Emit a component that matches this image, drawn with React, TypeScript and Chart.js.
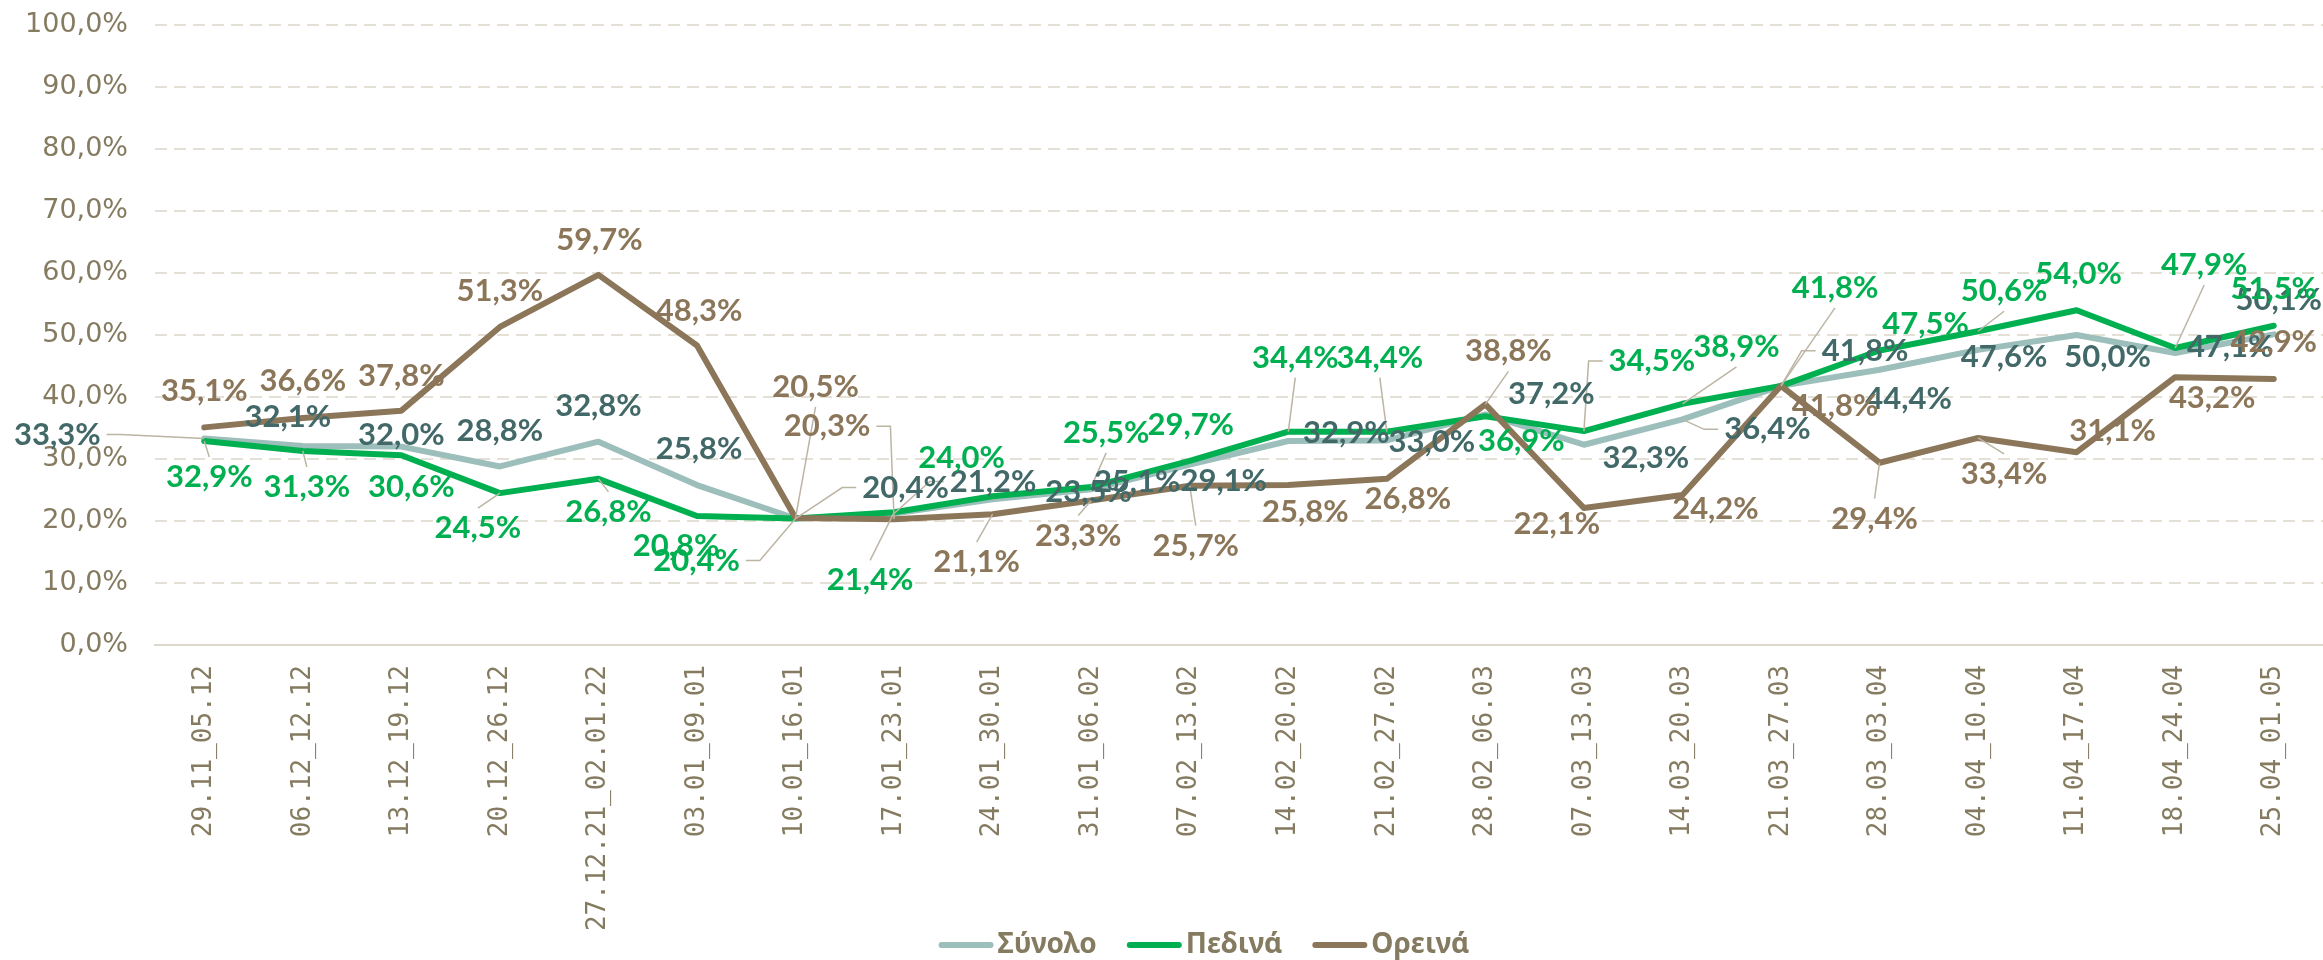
import React, { useEffect, useRef } from 'react';
import { Chart, registerables } from 'chart.js';

Chart.register(...registerables);

const categories = [
  '29.11_05.12', '06.12_12.12', '13.12_19.12', '20.12_26.12', '27.12.21_02.01.22', '03.01_09.01',
  '10.01_16.01', '17.01_23.01', '24.01_30.01', '31.01_06.02', '07.02_13.02', '14.02_20.02',
  '21.02_27.02', '28.02_06.03', '07.03_13.03', '14.03_20.03', '21.03_27.03', '28.03_03.04',
  '04.04_10.04', '11.04_17.04', '18.04_24.04', '25.04_01.05',
];

const synolo = [33.3, 32.1, 32.0, 28.8, 32.8, 25.8, 20.4, 21.2, 23.5, 25.1, 29.1, 32.9, 33.0, 37.2, 32.3, 36.4, 41.8, 44.4, 47.6, 50.0, 47.1, 50.1];
const pedina = [32.9, 31.3, 30.6, 24.5, 26.8, 20.8, 20.4, 21.4, 24.0, 25.5, 29.7, 34.4, 34.4, 36.9, 34.5, 38.9, 41.8, 47.5, 50.6, 54.0, 47.9, 51.5];
const oreina = [35.1, 36.6, 37.8, 51.3, 59.7, 48.3, 20.5, 20.3, 21.1, 23.3, 25.7, 25.8, 26.8, 38.8, 22.1, 24.2, 41.8, 29.4, 33.4, 31.1, 43.2, 42.9];

const seriesNames = ['Σύνολο', 'Πεδινά', 'Ορεινά'];

const yMin = 0;
const yMax = 100;
const yStep = 10;

// label offsets relative to the data point: [dx, dy, leaderMode] (0 none, 1 to top/bottom, 2 side elbow)
const synoloLabelPos = [
  [-147, -4, 2], [-15, -29, 0], [0, -12, 0], [0, -35, 0], [0, -36, 0], [2, -36, 0],
  [110, -31, 2], [99, -32, 2], [96, -7, 0], [46, -7, 0], [34, 16, 0], [58, -8, 0],
  [45, 2, 0], [66, -20, 0], [62, 13, 0], [85, 10, 2], [84, -35, 2], [29, 29, 0],
  [26, 7, 0], [31, 22, 0], [55, -6, 0], [5, -34, 0],
];
const pedinaLabelPos = [
  [5, 36, 1], [4, 36, 1], [10, 32, 0], [-22, 35, 1], [10, 33, 1], [-21, 30, 0],
  [-99, 42, 2], [-24, 68, 1], [-31, -38, 0], [15, -54, 1], [1, -36, 0], [7, -74, 1],
  [-7, -74, 1], [36, 25, 0], [68, -70, 2], [54, -57, 1], [54, -98, 1], [46, -27, 0],
  [26, -40, 1], [2, -36, 0], [29, -83, 1], [0, -37, 0],
];
const oreinaLabelPos = [
  [0, -36, 0], [0, -37, 0], [0, -35, 0], [0, -36, 0], [1, -35, 0], [2, -35, 0],
  [20, -131, 1], [-67, -93, 2], [-16, 48, 1], [-13, 35, 1], [6, 60, 1], [17, 27, 0],
  [21, 20, 0], [23, -53, 1], [-27, 16, 0], [33, 14, 0], [54, 20, 0], [-5, 56, 1],
  [26, 36, 1], [36, -21, 0], [37, 21, 0], [0, -37, 0],
];

const COLORS = {
  synoloLine: '#9DBFBC',
  synoloText: '#426868',
  pedina: '#00B050',
  oreina: '#8C7659',
  axisText: '#857B60',
  grid: '#E4E0D6',
  axisLine: '#DCD8CE',
  leader: '#BDB5A4',
};

const fmt = (v: number) => v.toFixed(1).replace('.', ',') + '%';

const LABEL_FONT = 'bold 31px Lato';
const LABEL_H = 22;

const labelPlugin = {
  id: 'customLabels',
  afterDatasetsDraw(chart: any) {
    const ctx = chart.ctx as CanvasRenderingContext2D;
    const groups = [
      { idx: 0, data: synolo, pos: synoloLabelPos, color: COLORS.synoloText },
      { idx: 1, data: pedina, pos: pedinaLabelPos, color: COLORS.pedina },
      { idx: 2, data: oreina, pos: oreinaLabelPos, color: COLORS.oreina },
    ];
    ctx.save();
    ctx.font = LABEL_FONT;
    ctx.strokeStyle = COLORS.leader;
    ctx.lineWidth = 1.5;
    for (const g of groups) {
      const meta = chart.getDatasetMeta(g.idx);
      g.data.forEach((v, i) => {
        const p = meta.data[i];
        const [dx, dy, mode] = g.pos[i];
        if (!mode) return;
        const cx = p.x + dx;
        const cy = p.y + dy;
        const w = ctx.measureText(fmt(v)).width;
        ctx.beginPath();
        ctx.moveTo(p.x, p.y);
        if (mode === 1) {
          const ey = dy < 0 ? cy + LABEL_H / 2 + 9 : cy - LABEL_H / 2 - 9;
          ctx.lineTo(cx, ey);
        } else {
          const side = dx > 0 ? cx - w / 2 - 6 : cx + w / 2 + 6;
          const elbow = side + (dx > 0 ? -14 : 14);
          ctx.lineTo(elbow, cy);
          ctx.lineTo(side, cy);
        }
        ctx.stroke();
      });
    }
    ctx.textAlign = 'center';
    ctx.textBaseline = 'middle';
    for (const g of groups) {
      const meta = chart.getDatasetMeta(g.idx);
      ctx.fillStyle = g.color;
      g.data.forEach((v, i) => {
        const p = meta.data[i];
        const [dx, dy] = g.pos[i];
        ctx.fillText(fmt(v), p.x + dx, p.y + dy);
      });
    }
    ctx.restore();
  },
};

const legendPlugin = {
  id: 'customLegend',
  afterDraw(chart: any) {
    const ctx = chart.ctx as CanvasRenderingContext2D;
    const items = [
      { label: seriesNames[0], color: COLORS.synoloLine },
      { label: seriesNames[1], color: COLORS.pedina },
      { label: seriesNames[2], color: COLORS.oreina },
    ];
    ctx.save();
    ctx.font = 'bold 28px "Noto Sans"';
    const sw = 55;
    const gapText = 4;
    const gapItem = 30;
    const widths = items.map((it) => ctx.measureText(it.label).width);
    const total = widths.reduce((a, b) => a + b, 0) + items.length * (sw + gapText) + gapItem * (items.length - 1);
    const area = chart.chartArea;
    let x = (area.left + area.right) / 2 - 35 - total / 2;
    const y = 945;
    items.forEach((it, i) => {
      ctx.strokeStyle = it.color;
      ctx.lineWidth = 6;
      ctx.lineCap = 'round';
      ctx.beginPath();
      ctx.moveTo(x + 3, y);
      ctx.lineTo(x + sw - 3, y);
      ctx.stroke();
      ctx.fillStyle = COLORS.axisText;
      ctx.textAlign = 'left';
      ctx.textBaseline = 'middle';
      ctx.fillText(it.label, x + sw + gapText, y);
      x += sw + gapText + widths[i] + gapItem;
    });
    ctx.restore();
  },
};

export default function App() {
  const canvasRef = useRef<HTMLCanvasElement | null>(null);

  useEffect(() => {
    if (!canvasRef.current) return;
    const lineCommon = {
      borderWidth: 6,
      pointRadius: 0,
      pointHoverRadius: 0,
      tension: 0,
      fill: false,
      borderCapStyle: 'round' as const,
      borderJoinStyle: 'round' as const,
    };
    const chart = new Chart(canvasRef.current, {
      type: 'line',
      data: {
        labels: categories,
        datasets: [
          { label: seriesNames[0], data: synolo, borderColor: COLORS.synoloLine, backgroundColor: COLORS.synoloLine, order: 3, ...lineCommon },
          { label: seriesNames[1], data: pedina, borderColor: COLORS.pedina, backgroundColor: COLORS.pedina, order: 2, ...lineCommon },
          { label: seriesNames[2], data: oreina, borderColor: COLORS.oreina, backgroundColor: COLORS.oreina, order: 1, ...lineCommon },
        ],
      },
      options: {
        responsive: false,
        animation: false,
        devicePixelRatio: 1,
        layout: { padding: { top: 25, right: 0, left: 0, bottom: 0 } },
        plugins: {
          legend: { display: false },
          tooltip: { enabled: false },
        },
        scales: {
          x: {
            offset: true,
            grid: { display: false },
            border: { display: true, color: COLORS.axisLine, width: 2 },
            ticks: {
              color: COLORS.axisText,
              font: { family: '"DejaVu Sans Mono"', size: 26 },
              minRotation: 90,
              maxRotation: 90,
              padding: 12,
              autoSkip: false,
            },
            afterFit: (s: any) => { s.height = 315; },
          },
          y: {
            min: yMin,
            max: yMax,
            ticks: {
              stepSize: yStep,
              color: COLORS.axisText,
              font: { family: '"DejaVu Sans"', size: 27 },
              padding: 27,
              callback: (v: any) => fmt(Number(v)),
            },
            grid: { color: COLORS.grid, lineWidth: 2, drawTicks: false },
            border: { display: false, dash: [12, 7] },
            afterFit: (s: any) => {
              s.width = 155;
              s.paddingTop = 0;
              s.paddingBottom = 0;
            },
          },
        },
      },
      plugins: [labelPlugin, legendPlugin],
    });
    return () => chart.destroy();
  }, []);

  return (
    <div style={{ position: 'fixed', left: 0, top: 0, width: 2323, height: 960, background: '#fff' }}>
      <canvas ref={canvasRef} width={2323} height={960} style={{ width: 2323, height: 960 }} />
    </div>
  );
}
